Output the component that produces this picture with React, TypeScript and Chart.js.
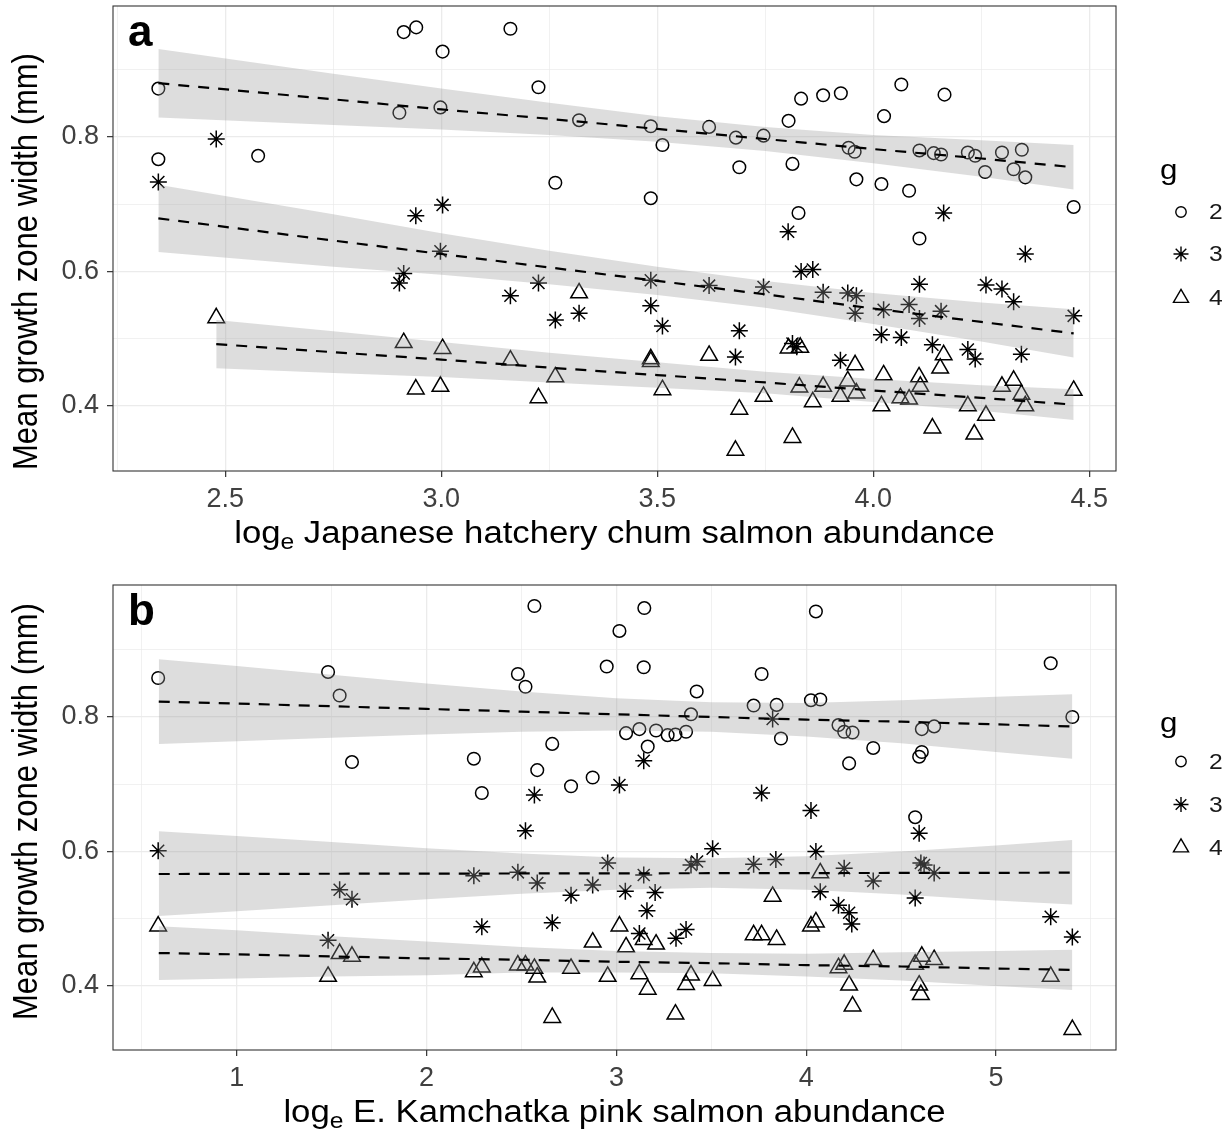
import React, { useEffect, useRef } from 'react';
import { Chart, registerables } from 'chart.js';
import { drawPoint } from 'chart.js/helpers';

Chart.register(...registerables);

const FONT = '"Liberation Sans", Arial, Helvetica, sans-serif';

// ---------------- Panel a: Japanese hatchery chum salmon ----------------
const aX2 = [2.345, 2.345, 2.576, 2.913, 2.942, 3.003, 3.160, 3.225, 2.903, 2.998, 3.319, 3.264, 3.485, 3.512, 3.485, 3.620, 3.682, 3.690, 3.746, 3.804, 3.813, 3.833, 3.884, 3.925, 3.827, 3.943, 3.957, 3.961, 4.019, 4.025, 4.065, 4.083, 4.107, 4.107, 4.140, 4.157, 4.165, 4.219, 4.236, 4.259, 4.298, 4.325, 4.344, 4.352, 4.464];
const aY2 = [0.872, 0.767, 0.772, 0.956, 0.963, 0.927, 0.961, 0.874, 0.836, 0.844, 0.825, 0.732, 0.816, 0.788, 0.709, 0.815, 0.799, 0.755, 0.802, 0.824, 0.760, 0.857, 0.862, 0.865, 0.687, 0.784, 0.778, 0.737, 0.730, 0.831, 0.878, 0.720, 0.780, 0.649, 0.776, 0.774, 0.863, 0.777, 0.772, 0.748, 0.777, 0.752, 0.781, 0.740, 0.696];

const aX3 = [2.479, 2.345, 2.941, 3.003, 2.998, 3.803, 4.163, 4.352, 2.913, 2.903, 3.160, 3.225, 3.264, 3.319, 3.485, 3.485, 3.512, 3.620, 3.746, 3.833, 3.860, 3.884, 3.941, 3.961, 3.958, 3.690, 3.681, 3.823, 3.813, 3.924, 4.019, 4.024, 4.065, 4.083, 4.107, 4.107, 4.157, 4.137, 4.219, 4.236, 4.261, 4.298, 4.325, 4.343, 4.464];
const aY3 = [0.797, 0.733, 0.683, 0.699, 0.630, 0.659, 0.687, 0.626, 0.597, 0.583, 0.564, 0.583, 0.528, 0.538, 0.587, 0.549, 0.519, 0.579, 0.577, 0.600, 0.603, 0.569, 0.568, 0.564, 0.538, 0.512, 0.473, 0.488, 0.493, 0.468, 0.506, 0.543, 0.502, 0.551, 0.581, 0.530, 0.541, 0.491, 0.484, 0.470, 0.580, 0.574, 0.555, 0.477, 0.534];

const aX4 = [2.479, 2.913, 3.003, 2.941, 2.998, 3.160, 3.264, 3.225, 3.319, 3.485, 3.485, 3.512, 3.620, 3.690, 3.681, 3.746, 3.813, 3.804, 3.831, 3.829, 3.860, 3.884, 3.924, 3.941, 3.958, 3.961, 4.019, 4.024, 4.063, 4.083, 4.106, 4.109, 4.137, 4.155, 4.163, 4.219, 4.234, 4.261, 4.298, 4.325, 4.343, 4.352, 4.464];
const aY4 = [0.531, 0.494, 0.485, 0.425, 0.429, 0.468, 0.443, 0.412, 0.568, 0.466, 0.470, 0.424, 0.475, 0.395, 0.334, 0.414, 0.353, 0.486, 0.487, 0.428, 0.406, 0.429, 0.414, 0.437, 0.461, 0.419, 0.400, 0.446, 0.412, 0.410, 0.443, 0.429, 0.367, 0.456, 0.476, 0.400, 0.358, 0.386, 0.429, 0.438, 0.417, 0.400, 0.423];

// fitted lines and 95% bands (panel a)
const aBandX23 = [2.345, 2.75, 3.0, 3.25, 3.5, 3.75, 4.0, 4.25, 4.464];
const aFit2 = [0.880, 0.856, 0.841, 0.827, 0.812, 0.797, 0.782, 0.768, 0.755];
const aUp2 = [0.931, 0.894, 0.872, 0.851, 0.831, 0.815, 0.803, 0.795, 0.788];
const aLo2 = [0.829, 0.818, 0.811, 0.803, 0.793, 0.779, 0.761, 0.741, 0.722];
const aFit3 = [0.679, 0.646, 0.626, 0.606, 0.586, 0.566, 0.545, 0.525, 0.508];
const aUp3 = [0.729, 0.685, 0.657, 0.631, 0.607, 0.586, 0.568, 0.554, 0.544];
const aLo3 = [0.629, 0.607, 0.595, 0.581, 0.565, 0.546, 0.522, 0.496, 0.472];
const aBandX4 = [2.479, 2.75, 3.0, 3.25, 3.5, 3.75, 4.0, 4.25, 4.464];
const aFit4 = [0.492, 0.480, 0.469, 0.457, 0.446, 0.435, 0.423, 0.412, 0.402];
const aUp4 = [0.528, 0.511, 0.495, 0.479, 0.465, 0.451, 0.440, 0.431, 0.425];
const aLo4 = [0.456, 0.449, 0.443, 0.435, 0.427, 0.419, 0.406, 0.393, 0.379];

const aXTicks = [2.25, 2.5, 2.75, 3.0, 3.25, 3.5, 3.75, 4.0, 4.25, 4.5];

// ---------------- Panel b: E. Kamchatka pink salmon ----------------
const bX2 = [0.586, 1.481, 1.542, 1.607, 2.568, 2.481, 2.521, 2.662, 2.249, 2.291, 2.583, 2.761, 2.875, 2.949, 3.147, 3.016, 3.144, 4.051, 3.765, 5.288, 5.402, 3.423, 3.723, 3.844, 3.867, 4.025, 4.074, 3.393, 3.051, 3.121, 3.209, 3.270, 3.311, 3.367, 3.165, 4.170, 4.200, 4.244, 4.353, 4.226, 4.609, 4.674, 4.609, 4.595, 4.574];
const bY2 = [0.858, 0.867, 0.832, 0.733, 0.965, 0.864, 0.845, 0.760, 0.738, 0.687, 0.721, 0.697, 0.710, 0.875, 0.962, 0.928, 0.874, 0.957, 0.864, 0.880, 0.800, 0.838, 0.817, 0.818, 0.768, 0.825, 0.826, 0.804, 0.776, 0.782, 0.780, 0.773, 0.774, 0.778, 0.756, 0.788, 0.778, 0.777, 0.754, 0.731, 0.782, 0.786, 0.748, 0.741, 0.651];

const bX3 = [0.586, 1.542, 1.607, 1.481, 2.521, 2.249, 2.481, 2.583, 2.291, 2.662, 2.761, 2.875, 2.954, 3.823, 3.144, 3.016, 3.765, 4.025, 2.568, 3.047, 3.144, 3.204, 3.161, 3.121, 3.314, 3.367, 3.393, 3.425, 3.507, 3.723, 3.840, 4.051, 4.074, 4.170, 4.200, 4.226, 4.240, 4.353, 4.595, 4.604, 4.621, 4.674, 4.574, 5.288, 5.402];
const bY3 = [0.601, 0.543, 0.529, 0.468, 0.631, 0.564, 0.569, 0.553, 0.488, 0.494, 0.535, 0.550, 0.583, 0.797, 0.735, 0.699, 0.687, 0.661, 0.684, 0.541, 0.565, 0.539, 0.512, 0.478, 0.471, 0.484, 0.580, 0.585, 0.604, 0.581, 0.588, 0.600, 0.540, 0.520, 0.575, 0.509, 0.492, 0.556, 0.627, 0.583, 0.580, 0.568, 0.531, 0.503, 0.473];

const bX4 = [0.586, 1.542, 1.607, 1.481, 2.249, 2.291, 2.481, 2.521, 2.568, 2.583, 2.662, 2.761, 2.875, 2.954, 3.823, 3.016, 3.051, 3.144, 3.209, 3.121, 3.165, 3.311, 3.367, 3.393, 3.507, 3.723, 3.765, 3.844, 4.025, 4.051, 4.074, 4.170, 4.200, 4.226, 4.244, 4.353, 4.574, 4.609, 4.674, 4.595, 4.604, 5.288, 5.402];
const bY4 = [0.489, 0.448, 0.444, 0.414, 0.421, 0.428, 0.431, 0.431, 0.426, 0.413, 0.353, 0.426, 0.465, 0.414, 0.533, 0.489, 0.458, 0.469, 0.462, 0.418, 0.395, 0.358, 0.402, 0.416, 0.408, 0.476, 0.476, 0.469, 0.489, 0.495, 0.568, 0.427, 0.432, 0.401, 0.370, 0.439, 0.432, 0.444, 0.439, 0.401, 0.387, 0.414, 0.335];

const bBandX = [0.589, 1.0, 1.5, 2.0, 2.5, 3.0, 3.5, 4.0, 4.5, 5.0, 5.402];
const bFit2 = [0.823, 0.820, 0.816, 0.812, 0.808, 0.804, 0.800, 0.796, 0.793, 0.789, 0.786];
const bUp2 = [0.886, 0.876, 0.863, 0.850, 0.838, 0.828, 0.822, 0.821, 0.825, 0.830, 0.834];
const bLo2 = [0.760, 0.764, 0.769, 0.774, 0.778, 0.780, 0.778, 0.771, 0.761, 0.748, 0.738];
const bFit3 = [0.5665, 0.5667, 0.5669, 0.5671, 0.5673, 0.5675, 0.5677, 0.5679, 0.5681, 0.5683, 0.5685];
const bUp3 = [0.630, 0.623, 0.614, 0.605, 0.597, 0.591, 0.590, 0.593, 0.600, 0.609, 0.617];
const bLo3 = [0.504, 0.511, 0.520, 0.529, 0.537, 0.543, 0.546, 0.543, 0.536, 0.527, 0.521];
const bFit4 = [0.449, 0.447, 0.444, 0.441, 0.439, 0.436, 0.434, 0.431, 0.429, 0.426, 0.424];
const bUp4 = [0.489, 0.483, 0.474, 0.466, 0.458, 0.452, 0.449, 0.448, 0.450, 0.452, 0.454];
const bLo4 = [0.409, 0.411, 0.414, 0.416, 0.420, 0.420, 0.419, 0.414, 0.408, 0.400, 0.394];

const bXTicks = [0.5, 1, 1.5, 2, 2.5, 3, 3.5, 4, 4.5, 5, 5.5];

const yTicks = [0.4, 0.5, 0.6, 0.7, 0.8, 0.9];
const groups = ['2', '3', '4'];
const Y_TITLE = 'Mean growth zone width (mm)';

const STYLES = [
  { pointStyle: 'circle', radius: 6.3, legendRadius: 5.2 },
  { pointStyle: 'star', radius: 8.5, legendRadius: 7.5 },
  { pointStyle: 'triangle', radius: 9.6, legendRadius: 8.7 },
];

const zip = (xs: number[], ys: number[]) => xs.map((x, i) => ({ x, y: ys[i] }));

type PanelSpec = {
  label: string;
  xMin: number; xMax: number; yMin: number; yMax: number;
  xTicks: number[];
  isMajorX: (v: number) => boolean;
  fmtX: (v: number) => string;
  xTitleRest: string;
  yTitleStart: number;
  legendTitleY: number;
  legendItemsY: number[];
  points: { x: number[]; y: number[] }[];
  bands: { x: number[]; fit: number[]; up: number[]; lo: number[] }[];
};

const SX = 1.12;

function drawStretched(ctx: CanvasRenderingContext2D, text: string, x: number, y: number) {
  ctx.save();
  ctx.translate(x, y);
  ctx.scale(SX, 1);
  ctx.textAlign = 'left';
  ctx.fillText(text, 0, 0);
  ctx.restore();
}

function makeDecor(spec: PanelSpec) {
  return {
    id: 'decor' + spec.label,
    afterDraw(chart: any) {
      const ctx: CanvasRenderingContext2D = chart.ctx;
      const area = chart.chartArea;
      ctx.save();
      // panel border
      ctx.strokeStyle = '#333333';
      ctx.lineWidth = 1.1;
      ctx.strokeRect(area.left, area.top, area.right - area.left, area.bottom - area.top);

      // panel tag
      ctx.fillStyle = '#000';
      ctx.font = `bold 44px ${FONT}`;
      ctx.textBaseline = 'alphabetic';
      ctx.textAlign = 'left';
      ctx.fillText(spec.label, 128, 46);

      // x title with subscript
      const big = `31px ${FONT}`;
      const small = `22px ${FONT}`;
      ctx.font = big;
      const w1 = ctx.measureText('log').width;
      const w3 = ctx.measureText(spec.xTitleRest).width;
      ctx.font = small;
      const w2 = ctx.measureText('e').width;
      const total = (w1 + w2 + w3) * SX;
      let x0 = (area.left + area.right) / 2 - total / 2;
      const base = area.bottom + 72;
      ctx.fillStyle = '#000';
      ctx.font = big;
      drawStretched(ctx, 'log', x0, base);
      x0 += w1 * SX;
      ctx.font = small;
      drawStretched(ctx, 'e', x0, base + 6);
      x0 += w2 * SX;
      ctx.font = big;
      drawStretched(ctx, spec.xTitleRest, x0, base);

      // y title
      ctx.save();
      ctx.translate(37, spec.yTitleStart);
      ctx.rotate(-Math.PI / 2);
      ctx.scale(1, SX);
      ctx.font = big;
      ctx.textAlign = 'left';
      ctx.textBaseline = 'alphabetic';
      ctx.fillText(Y_TITLE, 0, 0);
      ctx.restore();

      // legend
      ctx.fillStyle = '#000';
      ctx.font = `28px ${FONT}`;
      ctx.textBaseline = 'alphabetic';
      drawStretched(ctx, 'g', 1160, spec.legendTitleY);
      STYLES.forEach((st, i) => {
        const yy = spec.legendItemsY[i];
        ctx.save();
        ctx.strokeStyle = '#000';
        ctx.fillStyle = 'rgba(0,0,0,0)';
        ctx.lineWidth = 1.4;
        drawPoint(ctx, { pointStyle: st.pointStyle as any, radius: st.legendRadius, borderWidth: 1.4, rotation: 0 } as any, 1181, yy);
        ctx.restore();
        ctx.fillStyle = '#1a1a1a';
        ctx.font = `22px ${FONT}`;
        ctx.textBaseline = 'middle';
        drawStretched(ctx, groups[i], 1209, yy + 1);
      });
      ctx.restore();
    },
  };
}

function makeConfig(spec: PanelSpec): any {
  const lineSets: any[] = [];
  const bandSets: any[] = [];
  spec.bands.forEach((b) => {
    lineSets.push({
      type: 'line',
      data: zip(b.x, b.fit),
      borderColor: '#000',
      borderWidth: 2.2,
      borderDash: [11, 9],
      pointRadius: 0,
      fill: false,
      tension: 0,
      showLine: true,
    });
  });
  spec.bands.forEach((b) => {
    bandSets.push({
      type: 'line',
      data: zip(b.x, b.up),
      borderWidth: 0,
      borderColor: 'rgba(0,0,0,0)',
      backgroundColor: 'rgba(153,153,153,0.33)',
      pointRadius: 0,
      fill: '+1',
      tension: 0,
      showLine: true,
    });
    bandSets.push({
      type: 'line',
      data: zip(b.x, b.lo),
      borderWidth: 0,
      borderColor: 'rgba(0,0,0,0)',
      pointRadius: 0,
      fill: false,
      tension: 0,
      showLine: true,
    });
  });
  const pointSets = spec.points.map((p, i) => ({
    type: 'scatter',
    data: zip(p.x, p.y),
    pointStyle: STYLES[i].pointStyle,
    pointRadius: STYLES[i].radius,
    pointHoverRadius: STYLES[i].radius,
    borderColor: '#000',
    backgroundColor: 'rgba(0,0,0,0)',
    borderWidth: 1.5,
    showLine: false,
  }));

  const gridColor = '#ebebeb';
  return {
    type: 'scatter',
    data: { datasets: [...lineSets, ...bandSets, ...pointSets] },
    options: {
      animation: false,
      responsive: false,
      devicePixelRatio: 1,
      events: [],
      layout: { autoPadding: false, padding: { top: 6, right: 114, bottom: 0, left: 0 } },
      plugins: { legend: { display: false }, tooltip: { enabled: false } },
      scales: {
        x: {
          type: 'linear',
          min: spec.xMin,
          max: spec.xMax,
          afterBuildTicks: (scale: any) => {
            scale.ticks = spec.xTicks.map((v) => ({ value: v }));
          },
          afterFit: (scale: any) => {
            scale.height = 108;
            scale.paddingLeft = 0;
            scale.paddingRight = 0;
          },
          border: { display: false },
          grid: {
            color: gridColor,
            lineWidth: (c: any) => (spec.isMajorX(c.tick.value) ? 1.3 : 0.7),
            drawTicks: true,
            tickLength: 6,
            tickWidth: 1.2,
            tickColor: (c: any) => (spec.isMajorX(c.tick.value) ? '#333333' : 'rgba(0,0,0,0)'),
          },
          ticks: {
            autoSkip: false,
            maxRotation: 0,
            padding: 6,
            color: '#404040',
            font: { family: FONT, size: 27 },
            callback: (v: any) => (spec.isMajorX(Number(v)) ? spec.fmtX(Number(v)) : ''),
          },
        },
        y: {
          type: 'linear',
          min: spec.yMin,
          max: spec.yMax,
          afterBuildTicks: (scale: any) => {
            scale.ticks = yTicks.map((v) => ({ value: v }));
          },
          afterFit: (scale: any) => {
            scale.width = 113;
            scale.paddingTop = 0;
            scale.paddingBottom = 0;
          },
          border: { display: false },
          grid: {
            color: gridColor,
            lineWidth: (c: any) => (Math.round(c.tick.value * 10) % 2 === 0 ? 1.3 : 0.7),
            drawTicks: true,
            tickLength: 6,
            tickWidth: 1.2,
            tickColor: (c: any) => (Math.round(c.tick.value * 10) % 2 === 0 ? '#333333' : 'rgba(0,0,0,0)'),
          },
          ticks: {
            autoSkip: false,
            padding: 8,
            color: '#404040',
            font: { family: FONT, size: 27 },
            callback: (v: any) => (Math.round(Number(v) * 10) % 2 === 0 ? Number(v).toFixed(1) : ''),
          },
        },
      },
    },
    plugins: [makeDecor(spec)],
  };
}

const panelA: PanelSpec = {
  label: 'a',
  xMin: 2.240, xMax: 4.562, yMin: 0.3033, yMax: 0.9948,
  xTicks: aXTicks,
  isMajorX: (v) => Math.round(v * 4) % 2 === 0,
  fmtX: (v) => v.toFixed(1),
  xTitleRest: ' Japanese hatchery chum salmon abundance',
  yTitleStart: 470,
  legendTitleY: 179,
  legendItemsY: [212, 254, 298],
  points: [{ x: aX2, y: aY2 }, { x: aX3, y: aY3 }, { x: aX4, y: aY4 }],
  bands: [
    { x: aBandX23, fit: aFit2, up: aUp2, lo: aLo2 },
    { x: aBandX23, fit: aFit3, up: aUp3, lo: aLo3 },
    { x: aBandX4, fit: aFit4, up: aUp4, lo: aLo4 },
  ],
};

const panelB: PanelSpec = {
  label: 'b',
  xMin: 0.348, xMax: 5.632, yMin: 0.3048, yMax: 0.9963,
  xTicks: bXTicks,
  isMajorX: (v) => Math.abs(v - Math.round(v)) < 1e-6,
  fmtX: (v) => String(Math.round(v)),
  xTitleRest: ' E. Kamchatka pink salmon abundance',
  yTitleStart: 441,
  legendTitleY: 153,
  legendItemsY: [182.5, 225.5, 268.5],
  points: [{ x: bX2, y: bY2 }, { x: bX3, y: bY3 }, { x: bX4, y: bY4 }],
  bands: [
    { x: bBandX, fit: bFit2, up: bUp2, lo: bLo2 },
    { x: bBandX, fit: bFit3, up: bUp3, lo: bLo3 },
    { x: bBandX, fit: bFit4, up: bUp4, lo: bLo4 },
  ],
};

function Panel({ spec, top }: { spec: PanelSpec; top: number }) {
  const ref = useRef<HTMLCanvasElement | null>(null);
  useEffect(() => {
    if (!ref.current) return;
    const chart = new Chart(ref.current, makeConfig(spec));
    return () => chart.destroy();
  }, [spec]);
  return (
    <canvas
      ref={ref}
      width={1230}
      height={579}
      style={{ position: 'absolute', left: 0, top, width: 1230, height: 579, display: 'block' }}
    />
  );
}

export default function App() {
  return (
    <div
      style={{
        position: 'absolute',
        left: 0,
        top: 0,
        width: 1230,
        height: 1135,
        overflow: 'hidden',
        background: '#ffffff',
      }}
    >
      <Panel spec={panelA} top={0} />
      <Panel spec={panelB} top={579} />
    </div>
  );
}
